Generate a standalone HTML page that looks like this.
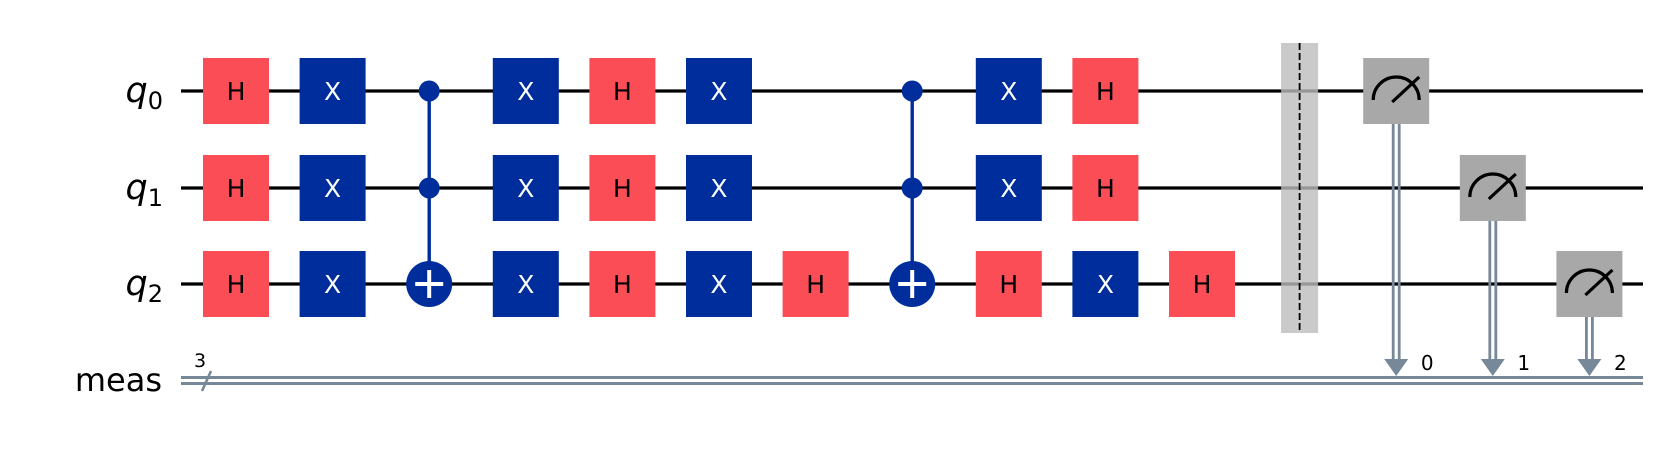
<!DOCTYPE html>
<html><head><meta charset="utf-8"><style>
html,body{margin:0;padding:0;background:#fff;}
svg{display:block;}
</style></head><body>
<svg id="c" width="1666" height="454" viewBox="0 0 1666 454" xmlns="http://www.w3.org/2000/svg" font-family="'DejaVu Sans','Liberation Sans',sans-serif">
<g id="labels">
<text x="163" y="102" text-anchor="end" font-size="35" font-style="italic">q<tspan font-size="24" font-style="normal" dy="7">0</tspan></text>
<text x="163" y="199" text-anchor="end" font-size="35" font-style="italic">q<tspan font-size="24" font-style="normal" dy="7">1</tspan></text>
<text x="163" y="295" text-anchor="end" font-size="35" font-style="italic">q<tspan font-size="24" font-style="normal" dy="7">2</tspan></text>
<text x="162" y="391" text-anchor="end" font-size="32">meas</text>
</g>
<g id="wires"></g>
<g id="gates"></g>
</svg>
<script>
var qubitY = [91, 188, 284];
var gateCols = [0,1,2,3,4,5,6,7,8,9,10];
var gateQ0 = ['H','X','C','X','H','X','','C','X','H',''];
var gateQ1 = ['H','X','C','X','H','X','','C','X','H',''];
var gateQ2 = ['H','X','T','X','H','X','H','T','H','X','H'];
var barrierCol = 11;
var measCols = [12,13,14];
var measQubit = [0,1,2];
var measBit = ['0','1','2'];

var NS='http://www.w3.org/2000/svg';
function colX(i){return 236 + i*96.6;}
function mk(tag,attrs,parent){var e=document.createElementNS(NS,tag);for(var k in attrs)e.setAttribute(k,attrs[k]);parent.appendChild(e);return e;}
var W=document.getElementById('wires'), G=document.getElementById('gates');
var x0=181, x1=1643;
qubitY.forEach(function(y,i){
  var l=mk('line',{x1:x0,y1:y,x2:x1,y2:y,stroke:'#000','stroke-width':3.3},W);
  
  
});
var cy1=377.5, cy2=383.5;
[cy1,cy2].forEach(function(y,i){
  var l=mk('line',{x1:x0,y1:y,x2:x1,y2:y,stroke:'#778899','stroke-width':3},W);
  
  
});
var sl=mk('line',{x1:202,y1:391,x2:211,y2:371,stroke:'#778899','stroke-width':2.6},W);


var t3=mk('text',{x:200,y:367,'font-size':19,'text-anchor':'middle',fill:'#000'},W);t3.textContent='3';



var cols=[gateQ0,gateQ1,gateQ2];
gateCols.forEach(function(c){
  var cx=colX(c);
  var ctrl=[], tgt=-1;
  for(var q=0;q<3;q++){ if(cols[q][c]==='C')ctrl.push(q); if(cols[q][c]==='T')tgt=q; }
  if(tgt>=0){
    var top=qubitY[Math.min.apply(null,ctrl.concat([tgt]))], bot=qubitY[tgt];
    var vl=mk('line',{x1:cx,y1:top,x2:cx,y2:bot,stroke:'#002D9C','stroke-width':3.4},G);
    
    
  }
  for(var q=0;q<3;q++){
    var g=cols[q][c], y=qubitY[q];
    if(g==='H'||g==='X'){
      var grp=mk('g',{},G);
      
      
      mk('rect',{x:cx-33,y:y-33,width:66,height:66,fill:g==='H'?'#FA4D56':'#002D9C'},grp);
      var t=mk('text',{x:cx,y:y+9,'text-anchor':'middle','font-size':25,fill:g==='H'?'#000':'#fff'},grp);t.textContent=g;
    } else if(g==='C'){
      var d=mk('circle',{cx:cx,cy:y,r:10.5,fill:'#002D9C'},G);
      
      
    } else if(g==='T'){
      var grp2=mk('g',{},G);
      
      
      mk('circle',{cx:cx,cy:y,r:23,fill:'#002D9C'},grp2);
      mk('line',{x1:cx-14,y1:y,x2:cx+14,y2:y,stroke:'#fff','stroke-width':4},grp2);
      mk('line',{x1:cx,y1:y-14,x2:cx,y2:y+14,stroke:'#fff','stroke-width':4},grp2);
    }
  }
});
// barrier
var bx=colX(barrierCol)+1;
var br=mk('rect',{x:bx-18.5,y:43,width:37,height:290,fill:'#BDBDBD','fill-opacity':0.8},G);


var bd=mk('line',{x1:bx,y1:43,x2:bx,y2:333,stroke:'#000','stroke-width':1.8,'stroke-dasharray':'7,3'},G);


// measures
measCols.forEach(function(c,i){
  var cx=colX(c)+1, y=qubitY[measQubit[i]];
  var grp=mk('g',{},G);
  
  
  mk('line',{x1:cx-3,y1:y+33,x2:cx-3,y2:360,stroke:'#778899','stroke-width':2.8},grp);
  mk('line',{x1:cx+3,y1:y+33,x2:cx+3,y2:360,stroke:'#778899','stroke-width':2.8},grp);
  mk('polygon',{points:(cx-12)+',359 '+(cx+12)+',359 '+cx+',376',fill:'#778899'},grp);
  var lt=mk('text',{x:cx+31,y:370,'font-size':20,'text-anchor':'middle',fill:'#000'},grp);lt.textContent=measBit[i];
  mk('rect',{x:cx-33,y:y-33,width:66,height:66,fill:'#A8A8A8'},grp);
  mk('path',{d:'M'+(cx-23)+','+(y+9)+' A23,23 0 0 1 '+(cx+23)+','+(y+9),fill:'none',stroke:'#000','stroke-width':3.2},grp);
  mk('line',{x1:cx-4,y1:y+11,x2:cx+23,y2:y-14,stroke:'#000','stroke-width':3.2},grp);
});
</script>
</body></html>
